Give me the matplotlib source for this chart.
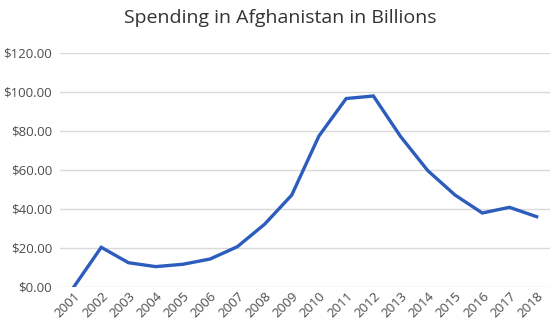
import matplotlib
matplotlib.use("Agg")
import matplotlib.pyplot as plt

years = [str(y) for y in range(2001, 2019)]
spending = [0.0, 20.2, 12.3, 10.3, 11.5, 14.2, 20.5, 32.0, 47.0, 77.3,
            96.5, 97.8, 77.0, 59.5, 47.0, 37.8, 40.7, 35.9]
yticks = [0, 20, 40, 60, 80, 100, 120]

plt.rcParams['font.family'] = ['Open Sans', 'DejaVu Sans']
fig = plt.figure(figsize=(5.6, 3.33), dpi=100)
ax = fig.add_axes([60.4/560, 1-286.7/333, (550.3-60.4)/560, (286.7-52.7)/333])

x = list(range(len(years)))
ax.plot(x, spending, color='#2c5cbc', linewidth=2.4, solid_joinstyle='miter')
ax.set_xlim(-0.5, len(years)-0.5)
ax.set_ylim(0, 120)
ax.set_yticks(yticks)
ax.set_yticklabels([f"${v:.2f}" for v in yticks], fontsize=9.5, color='#4d4d4d')
ax.set_xticks(x)
ax.set_xticklabels(years, rotation=45, fontsize=9.5, color='#4d4d4d', ha='right',
                   rotation_mode='anchor')
ax.grid(axis='y', color='#d9d9d9', linewidth=1)
ax.set_axisbelow(True)
for s in ax.spines.values():
    s.set_visible(False)
ax.tick_params(axis='y', length=0, pad=6)
ax.tick_params(axis='x', length=0, pad=2)
fig.text(0.5, 1-18/333, "Spending in Afghanistan in Billions", ha='center', va='center',
         fontsize=14, color='#333333')
fig.savefig("out.png", dpi=100)
